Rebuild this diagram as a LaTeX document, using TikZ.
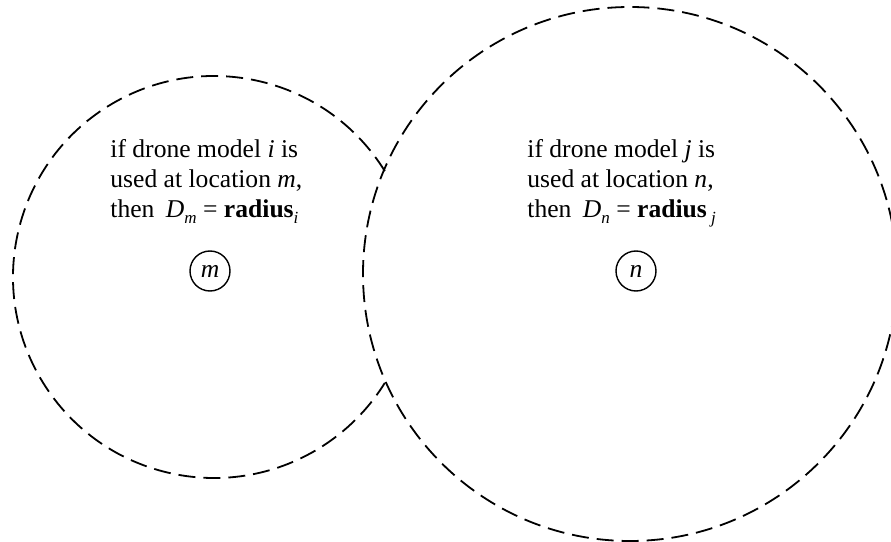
\documentclass[tikz,border=0pt]{standalone}
\usepackage{fontspec}
\setmainfont{Liberation Serif}
\newcommand{\lowsub}[1]{\raisebox{-0.55ex}{\fontsize{8.5}{8.5}\selectfont\itshape #1}}

\begin{document}
\begin{tikzpicture}[
  x=0.5pt, y=0.5pt,
  zone/.style={line width=0.9pt, dash pattern=on 8.5pt off 4pt},
  site/.style={circle, draw, line width=0.7pt, minimum size=20pt, inner sep=0pt, font=\fontsize{12.8}{15}\selectfont\itshape},
  rule/.style={align=left, inner sep=0pt, anchor=north west, font=\fontsize{12.8}{15}\selectfont}
]
  \useasboundingbox (0, 0) rectangle (891, 542);

  \coordinate (cm) at (214, 265);
  \coordinate (cn) at (630, 268);

  % coverage areas
  \draw[zone] (cn) circle[radius=133.5pt];
  \draw[zone] (cm) ++(31.8:100.5pt) arc[start angle=31.8, end angle=328.2, radius=100.5pt];

  \node[rule] (rm) at (110, 403) {if drone model \textit{i} is\\
    used at location \textit{m},\\
    then\hspace{0.45em}\textit{D}\lowsub{m} = \textbf{radius}\lowsub{i}};
  \node[rule] (rn) at (527, 403) {if drone model \textit{j} is\\
    used at location \textit{n},\\
    then\hspace{0.45em}\textit{D}\lowsub{n} = \textbf{radius}\,\lowsub{j}};

  \node[site] (m) at (210, 271) {m};
  \node[site] (n) at (636, 271) {n};
\end{tikzpicture}
\end{document}
